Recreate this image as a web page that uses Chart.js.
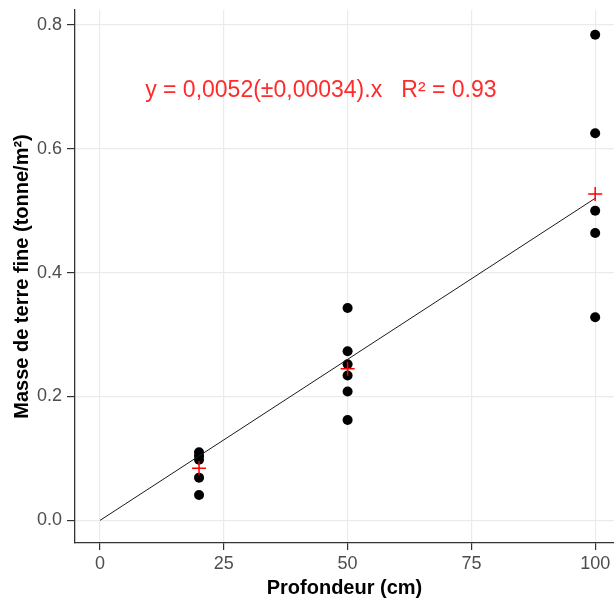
<!DOCTYPE html>
<html>
<head>
<meta charset="utf-8">
<script src="https://cdn.jsdelivr.net/npm/chart.js@4/dist/chart.umd.min.js"></script>
<style>
  html, body { margin: 0; padding: 0; background: #fff; }
  #wrap { width: 614px; height: 600px; position: relative; }
</style>
</head>
<body>
<div id="wrap"><canvas id="c" width="614" height="600"></canvas></div>
<script>
// ---- data ----
const xTicks = [0, 25, 50, 75, 100];
const yTicks = [0.0, 0.2, 0.4, 0.6, 0.8];
const depth20 = 20, depth50 = 50, depth100 = 100;
const massAt20 = [0.110, 0.104, 0.098, 0.069, 0.041];
const massAt50 = [0.343, 0.273, 0.252, 0.234, 0.208, 0.162];
const massAt100 = [0.784, 0.625, 0.500, 0.464, 0.328];
const meanDepths = [20, 50, 100];
const meanMass = [0.084, 0.245, 0.527];
const fitX = [0, 100];
const fitY = [0, 0.52];
const annotationText = "y = 0,0052(±0,00034).x   R² = 0.93";
const annotationPos = [44.6, 0.684];
const xTitle = "Profondeur (cm)";
const yTitle = "Masse de terre fine (tonne/m²)";

const rawPoints = []
  .concat(massAt20.map(v => ({x: depth20, y: v})))
  .concat(massAt50.map(v => ({x: depth50, y: v})))
  .concat(massAt100.map(v => ({x: depth100, y: v})));
const meanPoints = meanDepths.map((d, i) => ({x: d, y: meanMass[i]}));
const fitPoints = fitX.map((d, i) => ({x: d, y: fitY[i]}));

const annotationPlugin = {
  id: 'annot',
  afterDatasetsDraw(chart) {
    const {ctx, scales} = chart;
    ctx.save();
    ctx.font = '23px "Liberation Sans", Arial, sans-serif';
    ctx.fillStyle = '#ff2a2a';
    ctx.textAlign = 'center';
    ctx.textBaseline = 'alphabetic';
    ctx.fillText(annotationText, scales.x.getPixelForValue(annotationPos[0]), scales.y.getPixelForValue(annotationPos[1]));
    ctx.restore();
  }
};

const tickFont = {family: '"Liberation Sans", Arial, sans-serif', size: 18};
const titleFont = {family: '"Liberation Sans", Arial, sans-serif', size: 20, weight: 'bold'};

function zeroPad(s) { s.paddingLeft = 0; s.paddingRight = 0; s.paddingTop = 0; s.paddingBottom = 0; }

new Chart(document.getElementById('c'), {
  type: 'scatter',
  data: {
    datasets: [
      {
        type: 'scatter',
        data: meanPoints,
        pointStyle: 'cross',
        pointRadius: 7,
        pointBorderWidth: 1.5,
        borderColor: '#ff0000',
        backgroundColor: '#ff0000',
        order: 0
      },
      {
        type: 'line',
        data: fitPoints,
        borderColor: '#1a1a1a',
        borderWidth: 1,
        pointRadius: 0,
        fill: false,
        order: 1
      },
      {
        type: 'scatter',
        data: rawPoints,
        pointRadius: 5,
        pointBorderWidth: 0,
        backgroundColor: '#000000',
        borderColor: '#000000',
        order: 2
      }
    ]
  },
  options: {
    responsive: false,
    animation: false,
    events: [],
    layout: { autoPadding: false, padding: {top: 10, left: 0, right: 0, bottom: 0} },
    plugins: { legend: {display: false}, tooltip: {enabled: false} },
    scales: {
      x: {
        type: 'linear',
        min: -5.05,
        max: 103.8,
        afterBuildTicks: s => { s.ticks = xTicks.map(v => ({value: v})); },
        afterFit: s => { s.height = 57; zeroPad(s); },
        grid: { color: '#ebebeb', lineWidth: 1.2, tickColor: '#333333', tickLength: 7, drawTicks: true },
        border: { display: true, color: '#333333', width: 1.3 },
        ticks: { font: tickFont, color: '#4d4d4d', padding: 3, maxRotation: 0, autoSkip: false },
        title: { display: true, text: xTitle, font: titleFont, color: '#000000', padding: {top: 0, bottom: 0} }
      },
      y: {
        type: 'linear',
        min: -0.0365,
        max: 0.824,
        afterBuildTicks: s => { s.ticks = yTicks.map(v => ({value: v})); },
        afterFit: s => { s.width = 75; zeroPad(s); },
        grid: { color: '#ebebeb', lineWidth: 1.2, tickColor: '#333333', tickLength: 8, drawTicks: true },
        border: { display: true, color: '#333333', width: 1.3 },
        ticks: { font: tickFont, color: '#4d4d4d', padding: 5, callback: v => v.toFixed(1) },
        title: { display: true, text: yTitle, font: titleFont, color: '#000000', padding: {top: 10, bottom: 0} }
      }
    }
  },
  plugins: [annotationPlugin]
});
</script>
</body>
</html>
